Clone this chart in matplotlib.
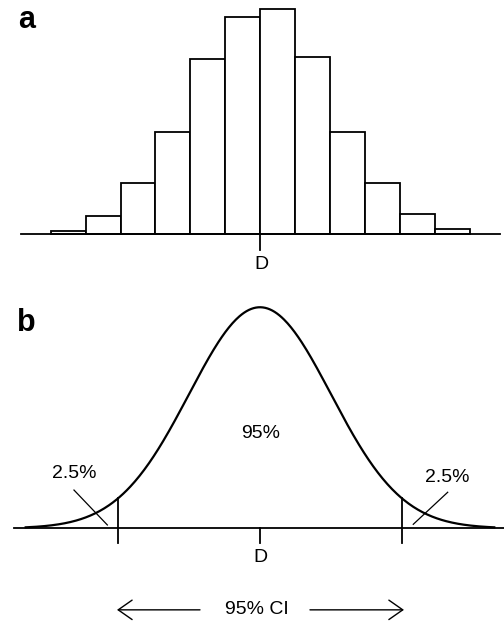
import numpy as np
import matplotlib
matplotlib.use('Agg')
import matplotlib.pyplot as plt

plt.rcParams['font.family'] = ['Liberation Sans', 'DejaVu Sans']

# panel a: histogram, bins of width 1 around D (=0), heights in % of draws
bin_left = [-6, -5, -4, -3, -2, -1, 0, 1, 2, 3, 4, 5]
freq_pct = [0.29, 1.55, 4.43, 8.88, 15.29, 18.98, 19.65, 15.43, 8.88, 4.43, 1.72, 0.46]

# panel b: normal curve in SD units, CI bounds as drawn
ci_bounds = [-2.0, 2.0]
labels_b = ['2.5%', '95%', '2.5%']

fs = 14

fig = plt.figure(figsize=(5.04, 6.23), dpi=100)

# ---- a ----
ax = fig.add_axes([0, 1 - 280 / 623, 1, 280 / 623])
ax.bar(bin_left, freq_pct, width=1, align='edge', color='white',
       edgecolor='black', linewidth=1.3, zorder=2)
ax.plot([-6.85, 6.87], [0, 0], color='black', lw=1.3, zorder=3)
ax.plot([0, 0], [0, -1.4], color='black', lw=1.3, zorder=3)
ax.text(0.03, -2.7, 'D', ha='center', va='center', fontsize=fs)
ax.set_xlim(-7.455, 6.986)
ax.set_ylim(-4.017, 20.44)
ax.axis('off')
fig.text(18 / 504, 1 - 28 / 623, 'a', fontsize=22, fontweight='bold', va='baseline')

# ---- b ----
bx = fig.add_axes([0, 0, 1, 333 / 623])
x = np.linspace(-3.3, 3.3, 400)
y = np.exp(-x ** 2 / 2)
bx.plot(x, y, color='black', lw=1.6)
bx.plot([-3.47, 3.6], [0, 0], color='black', lw=1.3)
for c in ci_bounds:
    bx.plot([c, c], [np.exp(-c ** 2 / 2), -0.068], color='black', lw=1.3)
bx.plot([0, 0], [0, -0.068], color='black', lw=1.3)

bx.text(-2.62, 0.246, labels_b[0], ha='center', va='center', fontsize=fs)
bx.text(0.01, 0.431, labels_b[1], ha='center', va='center', fontsize=fs)
bx.text(2.634, 0.232, labels_b[2], ha='center', va='center', fontsize=fs)
bx.plot([-2.62, -2.15], [0.173, 0.015], color='black', lw=0.9)
bx.plot([2.644, 2.159], [0.163, 0.018], color='black', lw=0.9)
bx.text(0.01, -0.134, 'D', ha='center', va='center', fontsize=fs)

bx.text(-0.04, -0.369, '95% CI', ha='center', va='center', fontsize=fs)
arrow = dict(arrowstyle='->,head_length=1.0,head_width=0.7', color='black',
             lw=1.0, mutation_scale=10, shrinkA=0, shrinkB=0)
bx.annotate('', xy=(-2.014, -0.369), xytext=(-0.845, -0.369), arrowprops=arrow)
bx.annotate('', xy=(2.028, -0.369), xytext=(0.704, -0.369), arrowprops=arrow)

bx.set_xlim(-3.662, 3.437)
bx.set_ylim(-0.4285, 1.078)
bx.axis('off')
fig.text(17 / 504, 1 - 331 / 623, 'b', fontsize=22, fontweight='bold', va='baseline')

fig.savefig('out.png', dpi=100)
